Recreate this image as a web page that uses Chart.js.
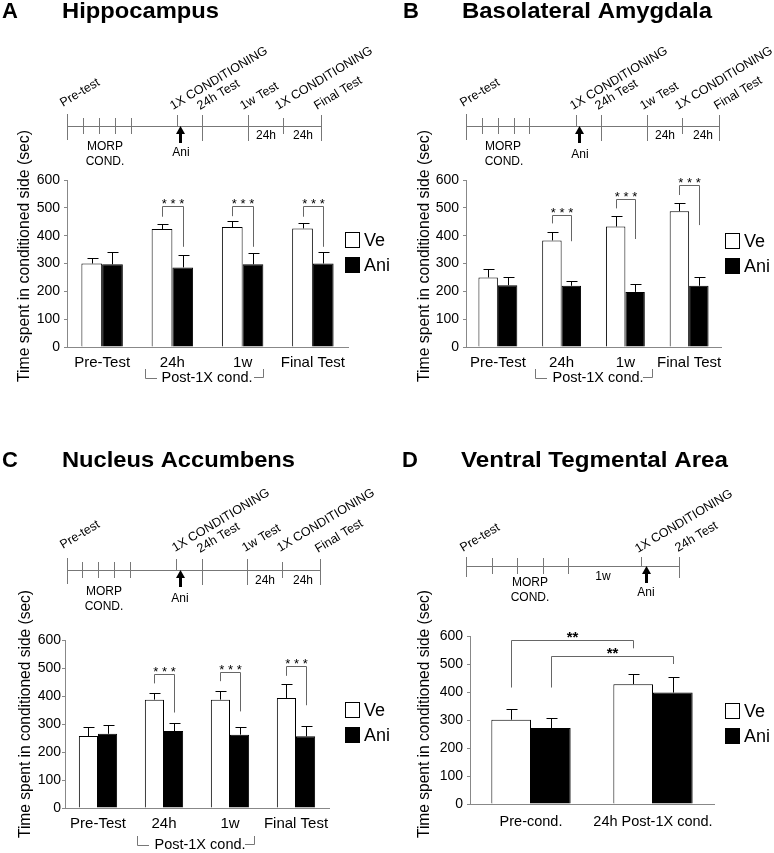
<!DOCTYPE html>
<html>
<head>
<meta charset="utf-8">
<script src="https://cdn.jsdelivr.net/npm/chart.js@4.4.1/dist/chart.umd.min.js"></script>
<style>
  body { margin: 0; background: #fff; }
  #wrap { position: relative; width: 774px; height: 853px; }
  canvas { position: absolute; left: 0; top: 0; }
</style>
</head>
<body>
<div id="wrap">
  <canvas id="cA" width="774" height="853"></canvas>
  <canvas id="cB" width="774" height="853"></canvas>
  <canvas id="cC" width="774" height="853"></canvas>
  <canvas id="cD" width="774" height="853"></canvas>
</div>
<script>
// ---- data ----
const groups = ['Ve', 'Ani'];
const testCats = ['Pre-Test', '24h', '1w', 'Final Test'];
const vtaCats = ['Pre-cond.', '24h Post-1X cond.'];

// Hippocampus
const hipVe = [300, 424, 431, 426];
const hipVeSem = [20, 19, 20, 20];
const hipAni = [297, 286, 297, 300];
const hipAniSem = [43, 44, 41, 42];

// Basolateral amygdala
const blaVe = [250, 383, 433, 488];
const blaVeSem = [32, 31, 36, 28];
const blaAni = [222, 220, 198, 220];
const blaAniSem = [30, 18, 28, 31];

// Nucleus accumbens
const naVe = [257, 387, 387, 393];
const naVeSem = [32, 24, 31, 49];
const naAni = [265, 275, 262, 256];
const naAniSem = [33, 27, 28, 37];

// Ventral tegmental area
const vtaVe = [301, 428];
const vtaVeSem = [38, 35];
const vtaAni = [271, 398];
const vtaAniSem = [36, 55];

// significance brackets: [cat1, set1, cat2, set2, top, leftEnd, rightEnd, label]
const hipSig = [[1, 0, 1, 1, 506, 468, 360, '* * *'], [2, 0, 2, 1, 506, 470, 360, '* * *'], [3, 0, 3, 1, 506, 468, 360, '* * *']];
const blaSig = [[1, 0, 1, 1, 476, 444, 380, '* * *'], [2, 0, 2, 1, 530, 498, 388, '* * *'], [3, 0, 3, 1, 582, 546, 438, '* * *']];
const naSig = [[1, 0, 1, 1, 480, 445, 341, '* * *'], [2, 0, 2, 1, 486, 453, 345, '* * *'], [3, 0, 3, 1, 508, 472, 367, '* * *']];
const vtaSig = [[0, 0, 1, 0, 586, 416, 556, '**'], [0, 1, 1, 1, 530, 416, 500, '**']];

const FONT = "'Liberation Sans', Arial, Helvetica, sans-serif";
Chart.defaults.font.family = FONT;
Chart.defaults.color = '#000';

// ---- layout of the four panels ----
const panels = [
  {
    id: 'cA', letter: 'A', title: 'Hippocampus', head: [2, 62, 157, 18],
    area: { l: 67, r: 348, t: 180, b: 347 }, catPct: 0.59, xFont: 15, xPad: 7, yPad: 4,
    cats: testCats, ve: hipVe, veSem: hipVeSem, ani: hipAni, aniSem: hipAniSem, sig: hipSig,
    yTitle: [25, 256, 252], legend: [345, 232], post: { l: 145, r: 263, cx: 207, y: 378 },
    starFont: '13px ' + FONT,
    time: {
      y: 126, arrow: 180,
      ticks: [[67, 12, 13], [83, 8, 7], [99, 8, 7], [115, 8, 7], [131, 8, 7], [177, 11, 0], [202, 11, 14], [248, 11, 14], [283, 8, 7], [321, 11, 14]],
      rot: [['Pre-test', 63, 107], ['1X CONDITIONING', 173, 110], ['24h Test', 200, 110], ['1w Test', 243, 110], ['1X CONDITIONING', 278, 110], ['Final Test', 317, 110]],
      small: [['MORP', 105, 147], ['COND.', 105, 162], ['Ani', 181, 153], ['24h', 266, 136], ['24h', 303, 136]]
    }
  },
  {
    id: 'cB', letter: 'B', title: 'Basolateral Amygdala', head: [403, 462, 250, 18],
    area: { l: 466, r: 721, t: 180, b: 347 }, catPct: 0.61, xFont: 15, xPad: 7, yPad: 4,
    cats: testCats, ve: blaVe, veSem: blaVeSem, ani: blaAni, aniSem: blaAniSem, sig: blaSig,
    yTitle: [425, 256, 252], legend: [725, 233], post: { l: 535, r: 652, cx: 598, y: 378 },
    starFont: '13px ' + FONT,
    time: {
      y: 126, arrow: 579,
      ticks: [[466, 12, 13], [482, 8, 7], [498, 8, 7], [514, 8, 7], [529, 8, 7], [576, 11, 0], [601, 11, 14], [647, 11, 14], [682, 8, 7], [719, 11, 14]],
      rot: [['Pre-test', 463, 107], ['1X CONDITIONING', 573, 110], ['24h Test', 598, 110], ['1w Test', 643, 110], ['1X CONDITIONING', 678, 110], ['Final Test', 717, 110]],
      small: [['MORP', 503, 147], ['COND.', 504, 162], ['Ani', 580, 155], ['24h', 665, 136], ['24h', 703, 136]]
    }
  },
  {
    id: 'cC', letter: 'C', title: 'Nucleus Accumbens', head: [2, 62, 233, 467],
    area: { l: 65, r: 329, t: 640, b: 808 }, catPct: 0.58, xFont: 15, xPad: 7, yPad: 1,
    cats: testCats, ve: naVe, veSem: naVeSem, ani: naAni, aniSem: naAniSem, sig: naSig,
    yTitle: [26, 714, 248], legend: [345, 702], post: { l: 137, r: 254, cx: 200, y: 845 },
    starFont: '13px ' + FONT,
    time: {
      y: 570, arrow: 180,
      ticks: [[67, 12, 13], [82, 8, 7], [98, 8, 7], [114, 8, 7], [130, 8, 7], [176, 11, 0], [202, 11, 14], [247, 11, 14], [282, 8, 7], [320, 11, 14]],
      rot: [['Pre-test', 63, 549], ['1X CONDITIONING', 175, 552], ['24h Test', 200, 553], ['1w Test', 245, 552], ['1X CONDITIONING', 280, 552], ['Final Test', 318, 553]],
      small: [['MORP', 104, 592], ['COND.', 104, 607], ['Ani', 180, 599], ['24h', 265, 581], ['24h', 303, 581]]
    }
  },
  {
    id: 'cD', letter: 'D', title: 'Ventral Tegmental Area', head: [402, 461, 267, 467],
    area: { l: 470, r: 714, t: 636, b: 804 }, catPct: 0.65, xFont: 14.5, xPad: 9, yPad: 4,
    cats: vtaCats, ve: vtaVe, veSem: vtaVeSem, ani: vtaAni, aniSem: vtaAniSem, sig: vtaSig,
    yTitle: [425, 714, 248], legend: [725, 703], post: null,
    starFont: 'bold 15px ' + FONT,
    time: {
      y: 566, arrow: 646,
      ticks: [[466, 9, 10], [492, 8, 7], [517, 8, 7], [543, 8, 7], [568, 8, 7], [641, 9, 0], [679, 9, 11]],
      rot: [['Pre-test', 463, 552], ['1X CONDITIONING', 638, 553], ['24h Test', 678, 552]],
      small: [['MORP', 530, 583], ['COND.', 530, 598], ['1w', 603, 577], ['Ani', 646, 593]]
    }
  }
];

// draw text stretched to a given width
function fitText(ctx, txt, x, y, w) {
  const m = ctx.measureText(txt).width;
  ctx.save();
  ctx.translate(x, y);
  if (w) ctx.scale(w / m, 1);
  ctx.fillText(txt, 0, 0);
  ctx.restore();
}

// T-shaped error bars on top of each bar
function drawErrors(chart) {
  const ctx = chart.ctx, ys = chart.scales.y;
  ctx.save();
  ctx.strokeStyle = '#000';
  ctx.lineWidth = 1;
  chart.data.datasets.forEach((ds, i) => {
    chart.getDatasetMeta(i).data.forEach((bar, j) => {
      const top = Math.round(ys.getPixelForValue(ds.data[j] + ds.sem[j])) + 0.5;
      const x = Math.round(bar.x) + 0.5;
      ctx.beginPath();
      ctx.moveTo(x, bar.y);
      ctx.lineTo(x, top);
      ctx.moveTo(x - 5, top);
      ctx.lineTo(x + 6, top);
      ctx.stroke();
    });
  });
  ctx.restore();
}

// heading, timeline, axis title, legend, brackets
function drawPanel(chart, P) {
  const ctx = chart.ctx, ys = chart.scales.y, T = P.time;
  ctx.save();
  ctx.fillStyle = '#000';
  ctx.textBaseline = 'alphabetic';
  ctx.textAlign = 'left';

  ctx.font = 'bold 22px ' + FONT;
  ctx.fillText(P.letter, P.head[0], P.head[3]);
  fitText(ctx, P.title, P.head[1], P.head[3], P.head[2]);

  // timeline
  ctx.strokeStyle = '#777';
  ctx.lineWidth = 1;
  ctx.beginPath();
  ctx.moveTo(T.ticks[0][0], T.y + 0.5);
  ctx.lineTo(T.ticks[T.ticks.length - 1][0] + 1, T.y + 0.5);
  T.ticks.forEach(([x, up, dn]) => {
    ctx.moveTo(x + 0.5, T.y - up);
    ctx.lineTo(x + 0.5, T.y + dn + 1);
  });
  ctx.stroke();

  // drug arrow
  ctx.beginPath();
  ctx.moveTo(T.arrow + 0.5, T.y);
  ctx.lineTo(T.arrow - 4, T.y + 8);
  ctx.lineTo(T.arrow + 5, T.y + 8);
  ctx.closePath();
  ctx.fill();
  ctx.fillRect(T.arrow - 1, T.y + 7, 3, 10);

  ctx.font = '12.5px ' + FONT;
  T.rot.forEach(([t, x, y]) => {
    ctx.save();
    ctx.translate(x, y);
    ctx.rotate(-31 * Math.PI / 180);
    ctx.fillText(t, 0, 0);
    ctx.restore();
  });
  ctx.font = '12px ' + FONT;
  ctx.textAlign = 'center';
  ctx.textBaseline = 'middle';
  T.small.forEach(([t, x, y]) => ctx.fillText(t, x, y));

  // y axis title
  ctx.font = '16px ' + FONT;
  ctx.save();
  ctx.translate(P.yTitle[0], P.yTitle[1]);
  ctx.rotate(-Math.PI / 2);
  fitText(ctx, 'Time spent in conditioned side (sec)', 0, 0, P.yTitle[2]);
  ctx.restore();

  // legend
  const [lx, ly] = P.legend;
  ctx.font = '18px ' + FONT;
  ctx.textAlign = 'left';
  groups.forEach((g, i) => {
    const by = ly + i * 25;
    ctx.fillStyle = i ? '#000' : '#fff';
    ctx.fillRect(lx, by, 15, 16);
    ctx.strokeStyle = '#000';
    ctx.strokeRect(lx + 0.5, by + 0.5, 14, 15);
    ctx.fillStyle = '#000';
    ctx.fillText(g, lx + 19, by + 9);
  });

  // significance brackets
  ctx.strokeStyle = '#666';
  P.sig.forEach(([c1, d1, c2, d2, top, e1, e2, lab]) => {
    const x1 = Math.round(chart.getDatasetMeta(d1).data[c1].x) + 0.5;
    const x2 = Math.round(chart.getDatasetMeta(d2).data[c2].x) + 0.5;
    const yt = Math.round(ys.getPixelForValue(top)) + 0.5;
    ctx.beginPath();
    ctx.moveTo(x1, ys.getPixelForValue(e1));
    ctx.lineTo(x1, yt);
    ctx.lineTo(x2, yt);
    ctx.lineTo(x2, ys.getPixelForValue(e2));
    ctx.stroke();
    ctx.font = P.starFont;
    ctx.textAlign = 'center';
    ctx.textBaseline = 'alphabetic';
    ctx.fillText(lab, (x1 + x2) / 2, yt + 1);
  });

  // Post-1X cond. bracket under the axis
  if (P.post) {
    const { l, r, cx, y } = P.post;
    ctx.strokeStyle = '#777';
    ctx.beginPath();
    ctx.moveTo(l + 0.5, y - 9);
    ctx.lineTo(l + 0.5, y + 0.5);
    ctx.lineTo(l + 12, y + 0.5);
    ctx.moveTo(r - 9, y - 0.5);
    ctx.lineTo(r + 0.5, y - 0.5);
    ctx.lineTo(r + 0.5, y - 9);
    ctx.stroke();
    ctx.font = '14.5px ' + FONT;
    ctx.textAlign = 'center';
    ctx.textBaseline = 'middle';
    ctx.fillText('Post-1X cond.', cx, y);
  }
  ctx.restore();
}

function makeChart(P) {
  const datasets = [
    { label: groups[0], data: P.ve, sem: P.veSem, backgroundColor: '#fff', borderColor: '#000', borderWidth: 1 },
    { label: groups[1], data: P.ani, sem: P.aniSem, backgroundColor: '#000', borderColor: '#000', borderWidth: 1 }
  ];
  new Chart(document.getElementById(P.id), {
    type: 'bar',
    data: { labels: P.cats, datasets: datasets },
    options: {
      responsive: false,
      animation: false,
      layout: { padding: { left: P.area.l - 40, right: 774 - P.area.r, top: P.area.t, bottom: 853 - P.area.b - 40 } },
      datasets: { bar: { categoryPercentage: P.catPct, barPercentage: 1 } },
      scales: {
        x: {
          grid: { display: false, drawTicks: false },
          border: { color: '#888' },
          ticks: { padding: P.xPad, autoSkip: false, maxRotation: 0, font: { size: P.xFont } },
          afterFit: s => { s.height = 40; }
        },
        y: {
          min: 0, max: 600,
          ticks: { stepSize: 100, padding: P.yPad, font: { size: 14 } },
          grid: { drawOnChartArea: false, tickLength: 3, color: '#888' },
          border: { color: '#888' },
          afterFit: s => { s.width = 40; }
        }
      },
      plugins: { legend: { display: false }, tooltip: { enabled: false } }
    },
    plugins: [{
      id: 'decor',
      afterDatasetsDraw: c => drawErrors(c),
      afterDraw: c => drawPanel(c, P)
    }]
  });
}

panels.forEach(makeChart);
</script>
</body>
</html>
